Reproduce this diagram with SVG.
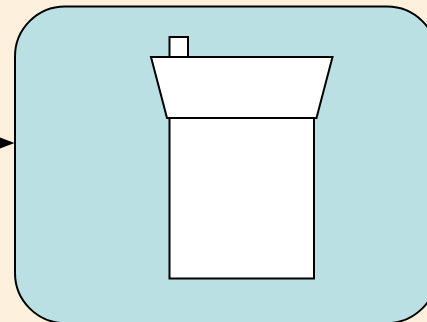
<svg xmlns="http://www.w3.org/2000/svg" width="427" height="322" viewBox="0 0 427 322">
<style>.s{stroke:#000;stroke-width:2;fill:#fff;stroke-linejoin:miter}</style>
<rect width="427" height="322" fill="#fdf0dc"/>
<g id="connectors"><path d="M0 137.500L14.500 143L0 148.500Z" fill="#000"/></g>
<g id="container"><rect x="15" y="6.500" width="422" height="316.500" rx="50" ry="50" fill="#bbe0e3" stroke="#000" stroke-width="2"/></g>
<g id="tower">
<rect class="s" x="169.500" y="37" width="18.500" height="20"/>
<rect class="s" x="169.500" y="118" width="144.500" height="160.500"/>
<path class="s" d="M151 57H332.500L316.500 118H167Z"/>
</g>
</svg>
